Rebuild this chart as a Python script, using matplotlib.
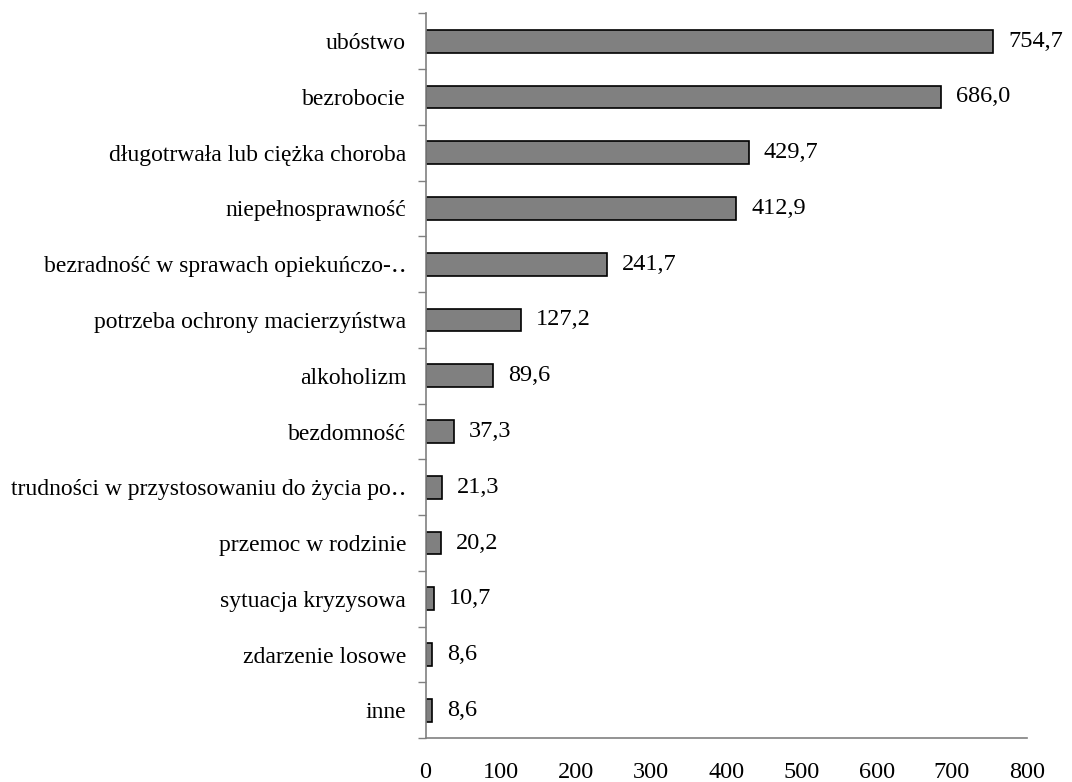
import numpy as np
import matplotlib.pyplot as plt
from matplotlib.ticker import FixedLocator

categories = [
    "ubóstwo",
    "bezrobocie",
    "długotrwała lub ciężka choroba",
    "niepełnosprawność",
    "bezradność w sprawach opiekuńczo-‥",
    "potrzeba ochrony macierzyństwa",
    "alkoholizm",
    "bezdomność",
    "trudności w przystosowaniu do życia po‥",
    "przemoc w rodzinie",
    "sytuacja kryzysowa",
    "zdarzenie losowe",
    "inne",
]
values = [754.7, 686.0, 429.7, 412.9, 241.7, 127.2, 89.6, 37.3, 21.3, 20.2, 10.7, 8.6, 8.6]
x_ticks = [0, 100, 200, 300, 400, 500, 600, 700, 800]

plt.rcParams["font.family"] = ["Liberation Serif", "DejaVu Serif"]
FS = 17

fig = plt.figure(figsize=(10.72, 7.82), dpi=100)
ax = fig.add_axes([0.397, 0.056, 0.561, 0.927])

n = len(categories)
y = np.arange(n)[::-1]
ax.barh(y, values, height=0.41, color="#808080", edgecolor="black", linewidth=1.2)

for yi, v in zip(y, values):
    ax.text(v + 20, yi, f"{v:.1f}".replace(".", ","), va="center", ha="left", fontsize=FS + 0.5)

ax.set_xlim(0, 800)
ax.set_ylim(-0.5, n - 0.5)
ax.set_xticks(x_ticks)
ax.set_xticklabels([str(t) for t in x_ticks])
ax.set_yticks(y)
ax.set_yticklabels(categories)

# category boundaries get small outward ticks, labels sit between them
ax.yaxis.set_minor_locator(FixedLocator(np.arange(n + 1) - 0.5))
ax.tick_params(axis="y", which="major", length=0, pad=14, labelsize=FS)
ax.tick_params(axis="y", which="minor", length=6, width=1, color="#808080")
ax.tick_params(axis="x", which="both", length=0, pad=17, labelsize=FS + 0.5)

for side in ["top", "right"]:
    ax.spines[side].set_visible(False)
for side in ["left", "bottom"]:
    ax.spines[side].set_color("#808080")
    ax.spines[side].set_linewidth(1.2)

fig.savefig("out.png", dpi=100)
